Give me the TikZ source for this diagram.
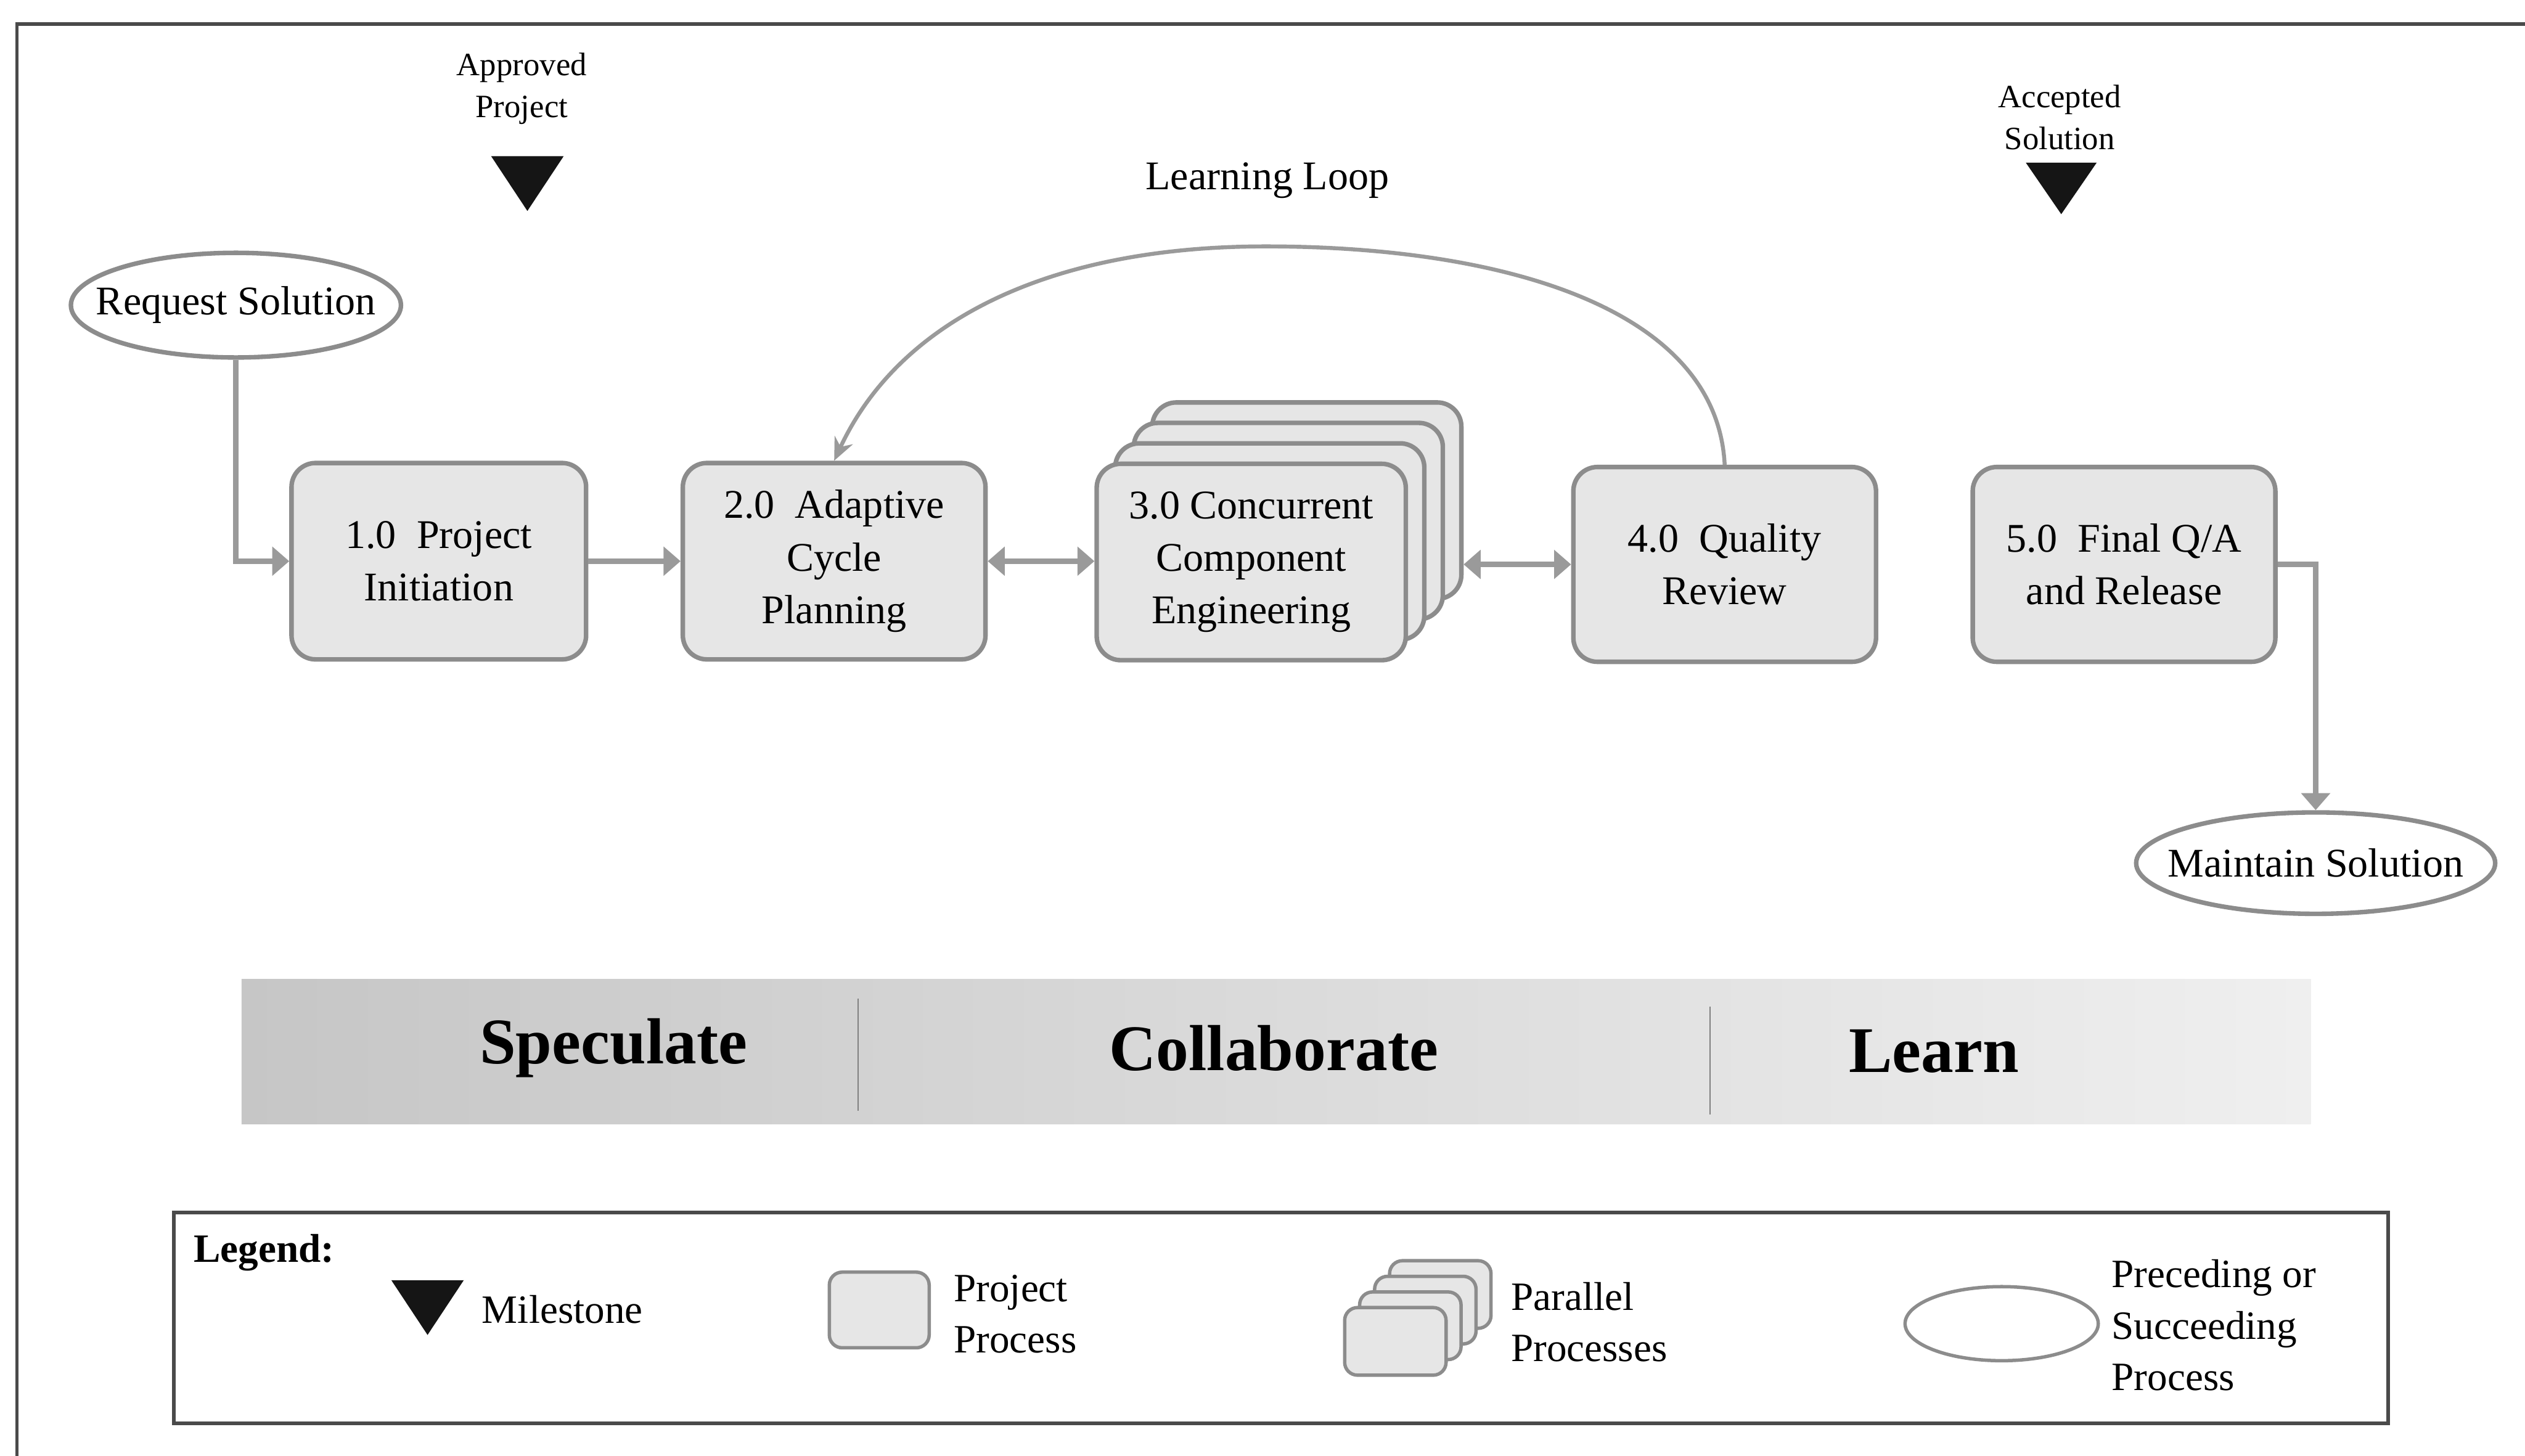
\documentclass[tikz,border=0pt]{standalone}
\usepackage{fontspec}
\setmainfont{Liberation Serif}
\usetikzlibrary{arrows.meta,calc,shapes.geometric}

\definecolor{boxline}{HTML}{8C8C8C}
\definecolor{boxfill}{HTML}{E6E6E6}
\definecolor{arrowgray}{HTML}{9A9A9A}
\definecolor{framegray}{HTML}{4A4A4A}
\definecolor{milestonefill}{HTML}{151515}
\definecolor{bandleft}{HTML}{C6C6C6}
\definecolor{bandright}{HTML}{EFEFEF}

\newcommand\procfont{\fontsize{14.4}{18.6}\selectfont}
\newcommand\tagfont{\fontsize{11.5}{14.8}\selectfont}
\newcommand\bandfont{\fontsize{23}{27}\selectfont\bfseries}
\newcommand\keyfont{\fontsize{14.2}{18.2}\selectfont}

\tikzset{
  proc/.style={draw=boxline, fill=boxfill, line width=1.6pt, rounded corners=0.3cm,
    minimum width=3.76cm, minimum height=2.44cm, align=center, font=\procfont, inner sep=0pt},
  keyproc/.style={proc, line width=1.2pt, rounded corners=0.16cm},
  endpt/.style={ellipse, draw=boxline, fill=white, line width=1.6pt, inner sep=0pt, font=\procfont},
  flow/.style={draw=arrowgray, line width=2pt, -{Triangle[length=6pt,width=10pt]}},
  biflow/.style={draw=arrowgray, line width=2pt,
    {Triangle[length=6pt,width=10pt]}-{Triangle[length=6pt,width=10pt]}},
  loopflow/.style={draw=arrowgray, line width=1.4pt, -{Stealth[length=8pt,width=7pt]}},
  plaintext/.style={inner sep=0pt, font=\procfont},
  keytext/.style={inner sep=0pt, font=\keyfont, align=left, anchor=west},
  milestone/.style={fill=milestonefill},
}

\begin{document}
\begin{tikzpicture}[x=0.02cm, y=-0.02cm]
  \useasboundingbox (0,0) rectangle (1568,904);
  \fill[white] (0,0) rectangle (1568,904);

  % page frame
  \draw[framegray, line width=1.2pt] (10.5,904) -- (10.5,15) -- (1568,15);

  % milestones
  \fill[milestone] (305,97) -- (350,97) -- (327.5,131) -- cycle;
  \node[plaintext, font=\tagfont, align=center] (approved) at (324,55) {Approved\\Project};
  \fill[milestone] (1258,101) -- (1302,101) -- (1280,133) -- cycle;
  \node[plaintext, font=\tagfont, align=center] (accepted) at (1279,73) {Accepted\\Solution};

  % preceding and succeeding processes
  \node[endpt, minimum width=4.1cm, minimum height=1.3cm,
    label={[plaintext]center:Request Solution}] (req) at (146.5,189.5) {};
  \node[endpt, minimum width=4.46cm, minimum height=1.26cm,
    label={[plaintext]center:Maintain Solution}] (maint) at (1438,536) {};

  % project processes
  \node[proc, minimum width=3.66cm] (b1) at (272.5,348.5) {1.0\ \ Project\\Initiation};
  \node[proc] (b2) at (518,348.5) {2.0\ \ Adaptive\\Cycle\\Planning};

  % parallel stack of component engineering processes
  \node[proc, minimum width=3.84cm] (b3c) at (811.5,310.9) {};
  \node[proc, minimum width=3.84cm] (b3b) at (800,323.6) {};
  \node[proc, minimum width=3.84cm] (b3a) at (788.5,336.3) {};
  \node[proc, minimum width=3.84cm] (b3) at (777,349) {3.0 Concurrent\\Component\\Engineering};

  \node[proc, minimum height=2.42cm] (b4) at (1071,350.5) {4.0\ \ Quality\\Review};
  \node[proc, minimum height=2.42cm] (b5) at (1319,350.5) {5.0\ \ Final Q/A\\and Release};

  % flow between processes
  \draw[flow] (req.south) |- (b1.west);
  \draw[flow] (b1.east) -- (b2.west);
  \draw[biflow] (b2.east) -- (b3.west |- b2.east);
  \draw[biflow] (b3c.east |- b4.west) -- (b4.west);
  \draw[flow] (b5.east) -| (maint.north);

  % learning loop
  \coordinate (looptop) at (786,153);
  \draw[loopflow] (b4.north) .. controls (1066,190) and (930,153) .. (looptop)
    .. controls (650,153) and (558,200) .. (b2.north);
  \node[plaintext] (looplabel) at (787,112) {Learning Loop};

  % phase band
  \shade[left color=bandleft, right color=bandright] (150,608) rectangle (1435,698);
  \draw[framegray!70, line width=0.5pt] (533,620) -- (533,690);
  \draw[framegray!70, line width=0.5pt] (1062,625) -- (1062,692);
  \node[plaintext, font=\bandfont] (spec) at (381,651) {Speculate};
  \node[plaintext, font=\bandfont] (coll) at (791,651) {Collaborate};
  \node[plaintext, font=\bandfont] (learn) at (1201,653) {Learn};

  % legend
  \draw[framegray, line width=1.4pt, fill=white] (108,753) rectangle (1483,884);
  \node[keytext, font=\keyfont\bfseries] (lg) at (120,778) {Legend:};

  \fill[milestone] (243,795) -- (288,795) -- (265.5,829) -- cycle;
  \node[keytext] (kmile) at (299,813) {Milestone};

  \node[keyproc, minimum width=1.24cm, minimum height=0.94cm] (kproc) at (546,813.5) {};
  \node[keytext] (kproctext) at (592,816) {Project\\Process};

  \node[keyproc, minimum width=1.26cm, minimum height=0.84cm] (kpc) at (894.4,803.9) {};
  \node[keyproc, minimum width=1.26cm, minimum height=0.84cm] (kpb) at (885.1,813.6) {};
  \node[keyproc, minimum width=1.26cm, minimum height=0.84cm] (kpa) at (875.8,823.3) {};
  \node[keyproc, minimum width=1.26cm, minimum height=0.84cm] (kp) at (866.5,833) {};
  \node[keytext] (kptext) at (938,821) {Parallel\\Processes};

  \node[endpt, line width=1.2pt, minimum width=2.4cm, minimum height=0.92cm] (kend) at (1243,822) {};
  \node[keytext] (kendtext) at (1311,823) {Preceding or\\Succeeding\\Process};
\end{tikzpicture}
\end{document}
